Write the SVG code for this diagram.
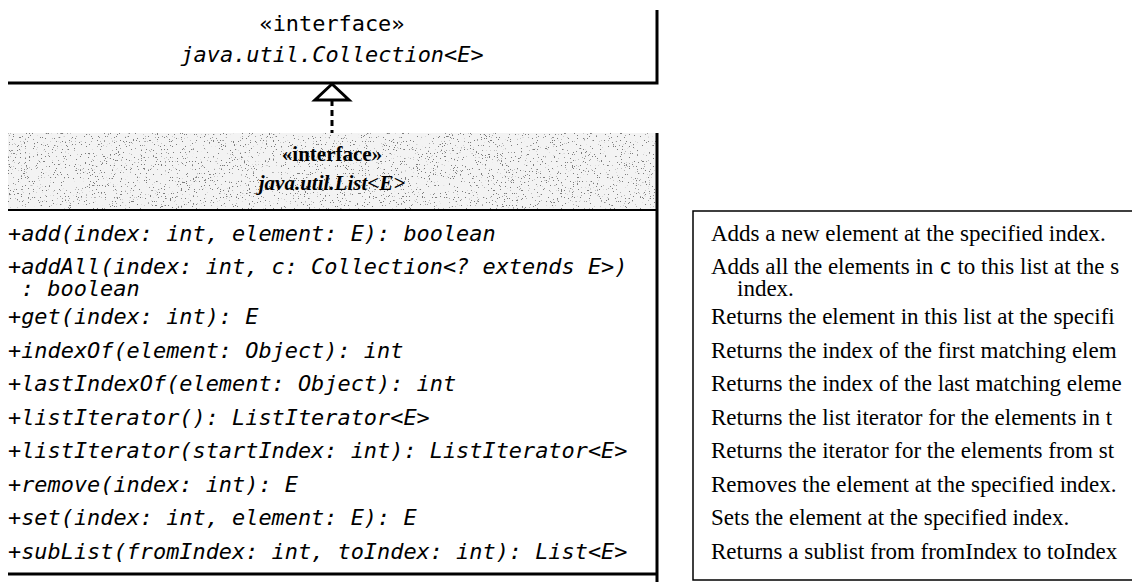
<svg xmlns="http://www.w3.org/2000/svg" width="1132" height="582" viewBox="0 0 1132 582">
<defs>
<style>
.mono{font-family:"DejaVu Sans Mono","Liberation Mono",monospace;font-size:21.9px;fill:#000}
.it{font-style:italic}
.serif{font-family:"Liberation Serif","Times New Roman",serif;font-size:23px;fill:#000}
.hdr{font-family:"Liberation Serif","Times New Roman",serif;font-weight:bold;font-size:21px;fill:#000}
.thick{stroke:#000;stroke-width:3;fill:none}
.mid{stroke:#000;stroke-width:2.2;fill:none}
.thin{stroke:#000;stroke-width:1.5;fill:none}
</style>
<filter id="speckle" x="0" y="0" width="100%" height="100%">
<feTurbulence type="fractalNoise" baseFrequency="0.75" numOctaves="2" seed="7" result="n"/>
<feColorMatrix in="n" type="matrix" values="0 0 0 0 0.2  0 0 0 0 0.2  0 0 0 0 0.2  0 0 0 20 -13.6"/>
</filter>
</defs>
<rect width="1132" height="582" fill="#fff"/>

<g id="collection">
<text class="mono" x="332" y="31" text-anchor="middle">«interface»</text>
<text class="mono it" x="332" y="62" text-anchor="middle">java.util.Collection&lt;E&gt;</text>
<path class="thick" d="M8 83 H657 V10"/>
</g>

<g id="list">
<rect x="8" y="133" width="649" height="77" fill="#f3f3f3"/>
<rect x="8" y="133" width="649" height="77" fill="#000" filter="url(#speckle)"/>
<text class="hdr" x="332" y="161" text-anchor="middle">«interface»</text>
<text class="hdr" x="332" y="190" text-anchor="middle" font-style="italic">java.util.List&lt;E&gt;</text>
<path class="mid" d="M8 210 H657"/>
<path class="thick" d="M657 133 V582" stroke-width="3.5"/>
<path class="thick" d="M8 574 H657"/>
<g class="mono it">
<text x="8" y="241">+add(index: int, element: E): boolean</text>
<text x="8" y="274">+addAll(index: int, c: Collection&lt;? extends E&gt;)</text>
<text x="21" y="296">: boolean</text>
<text x="8" y="324">+get(index: int): E</text>
<text x="8" y="357.5">+indexOf(element: Object): int</text>
<text x="8" y="391">+lastIndexOf(element: Object): int</text>
<text x="8" y="424.5">+listIterator(): ListIterator&lt;E&gt;</text>
<text x="8" y="458">+listIterator(startIndex: int): ListIterator&lt;E&gt;</text>
<text x="8" y="491.5">+remove(index: int): E</text>
<text x="8" y="525">+set(index: int, element: E): E</text>
<text x="8" y="558.5">+subList(fromIndex: int, toIndex: int): List&lt;E&gt;</text>
</g>
</g>

<g id="descriptions">
<path class="thin" d="M1140 211 H693 V580 H1140"/>
<g class="serif">
<text x="711" y="241">Adds a new element at the specified index.</text>
<text x="711" y="274">Adds all the elements in <tspan font-family="DejaVu Sans Mono, monospace" font-size="21">c</tspan> to this list at the s</text>
<text x="737" y="296">index.</text>
<text x="711" y="324">Returns the element in this list at the specifi</text>
<text x="711" y="357.5">Returns the index of the first matching elem</text>
<text x="711" y="391">Returns the index of the last matching eleme</text>
<text x="711" y="424.5">Returns the list iterator for the elements in t</text>
<text x="711" y="458">Returns the iterator for the elements from st</text>
<text x="711" y="491.5">Removes the element at the specified index.</text>
<text x="711" y="525">Sets the element at the specified index.</text>
<text x="711" y="558.5">Returns a sublist from fromIndex to toIndex</text>
</g>
</g>

<g id="connectors">
<path class="thick" d="M332 100 V133" stroke-dasharray="6 4"/>
<path d="M332 84 L315 100 H349 Z" fill="#fff" stroke="#000" stroke-width="3" stroke-linejoin="miter"/>
</g>
</svg>
